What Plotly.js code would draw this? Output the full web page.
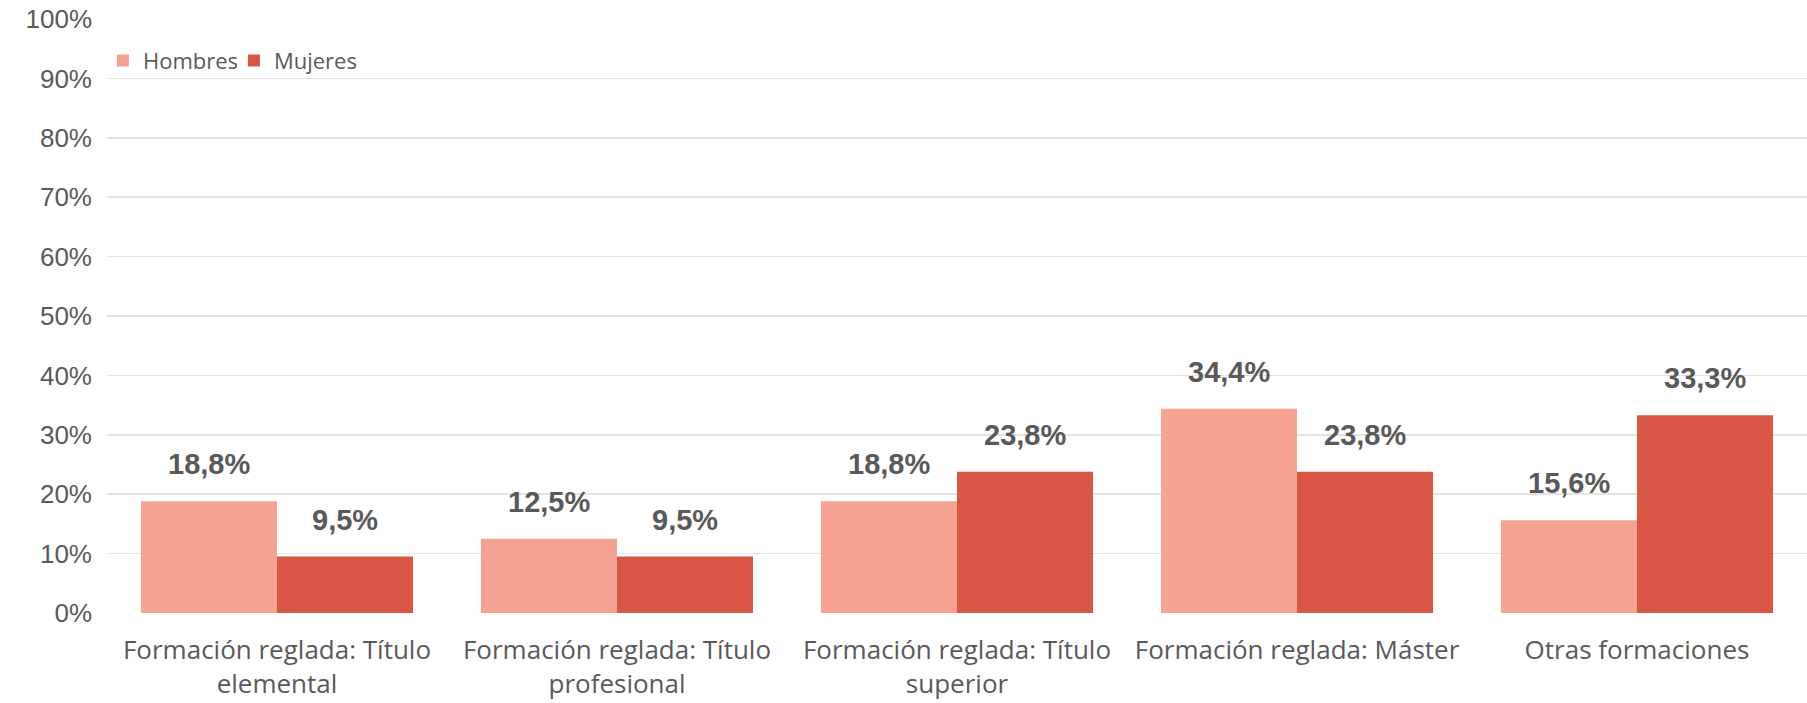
<!DOCTYPE html>
<html>
<head>
<meta charset="utf-8">
<script src="https://cdn.plot.ly/plotly-3.0.1.min.js"></script>
<style>
  html, body { margin: 0; padding: 0; background: #fff; }
  #chart { width: 1807px; height: 703px; }
</style>
</head>
<body>
<div id="chart"></div>
<script>
// Education type by sex (% of each group)
const categories = [
  "Formación reglada: Título<br>elemental",
  "Formación reglada: Título<br>profesional",
  "Formación reglada: Título<br>superior",
  "Formación reglada: Máster",
  "Otras formaciones"
];
const seriesNames = ["Hombres", "Mujeres"];
const hombres = [18.8, 12.5, 18.8, 34.4, 15.6];
const mujeres = [9.5, 9.5, 23.8, 23.8, 33.3];
const yTicks = [0, 10, 20, 30, 40, 50, 60, 70, 80, 90, 100];
const yTickLabels = ["0%", "10%", "20%", "30%", "40%", "50%", "60%", "70%", "80%", "90%", "100%"];

const colors = ["#F5A494", "#D95645"];
const textGray = "#595959";

const W = 1807, H = 703;
const margin = { l: 107, r: 0, t: 19, b: 90 };
const bargap = 0.2;

const traces = [hombres, mujeres].map((vals, i) => ({
  type: "bar",
  name: seriesNames[i],
  x: categories,
  y: vals,
  marker: { color: colors[i], line: { width: 0 } },
  hoverinfo: "skip"
}));

// Value labels above each bar, centred on its half of the group
const plotW = W - margin.l - margin.r;
const catW = plotW / categories.length;
const barW = catW * (1 - bargap) / 2;
const fmt = v => v.toFixed(1).replace(".", ",") + "%";
const annotations = [];
[hombres, mujeres].forEach((vals, i) => {
  vals.forEach((v, k) => {
    annotations.push({
      x: categories[k], y: v, xref: "x", yref: "y",
      text: fmt(v), showarrow: false,
      xanchor: "center", yanchor: "middle",
      xshift: (i === 0 ? -1 : 1) * barW / 2,
      yshift: 37,
      font: { family: "Liberation Sans, Arial, sans-serif", size: 29, color: textGray, weight: "bold" }
    });
  });
});

const layout = {
  width: W, height: H,
  margin: margin,
  paper_bgcolor: "#fff", plot_bgcolor: "#fff",
  barmode: "group",
  bargap: bargap, bargroupgap: 0,
  showlegend: true,
  legend: {
    orientation: "h",
    x: -0.0024, xanchor: "left",
    y: 0.93, yanchor: "middle",
    entrywidthmode: "pixels", entrywidth: 86,
    font: { family: "Open Sans, sans-serif", size: 22, color: textGray },
    bgcolor: "rgba(0,0,0,0)",
    itemclick: false, itemdoubleclick: false
  },
  xaxis: {
    type: "category",
    showgrid: false, zeroline: false, showline: false,
    ticks: "", ticklabelstandoff: 19,
    tickfont: { family: "Open Sans, sans-serif", size: 26, color: textGray }
  },
  yaxis: {
    range: [0, 100],
    tickmode: "array", tickvals: yTicks, ticktext: yTickLabels,
    showgrid: true, gridcolor: "#E3E3E3", gridwidth: 1.5,
    zeroline: false, showline: false,
    ticks: "", ticklabelstandoff: 14,
    tickfont: { family: "Liberation Sans, Arial, sans-serif", size: 26, color: textGray }
  },
  annotations: annotations
};

Plotly.newPlot("chart", traces, layout, { displayModeBar: false, staticPlot: true });
</script>
</body>
</html>
